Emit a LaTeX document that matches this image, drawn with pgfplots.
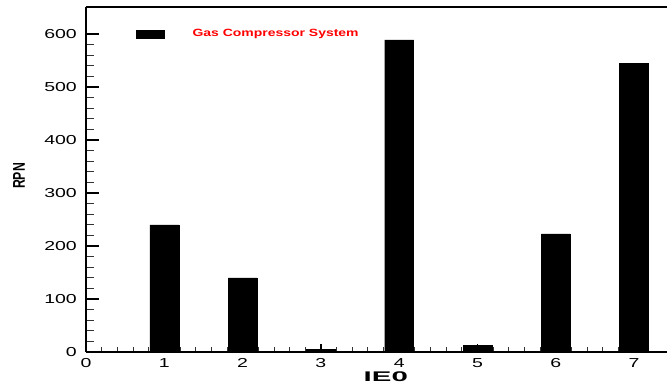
\documentclass[border=0pt]{standalone}
\usepackage{graphicx}
\usepackage{fontspec}
\setmainfont{Liberation Sans}
\newfontfamily\widefont[FakeStretch=1.5]{Liberation Sans}
\newfontfamily\legfont[FakeStretch=1.33]{Liberation Sans}
\usepackage{pgfplots}
\pgfplotsset{compat=1.18}
\begin{document}
\begin{tikzpicture}
\begin{axis}[
  scale only axis, width=581pt, height=345pt,
  xmin=0, xmax=7.42, ymin=0, ymax=651,
  axis x line*=bottom, axis y line*=left,
  axis line style={-, line width=1.6pt},
  xtick={0,...,7}, ytick={0,100,...,600},
  minor x tick num=4, minor y tick num=4,
  tick align=inside,
  major tick length=13pt, minor tick length=8pt,
  xtick style={/pgfplots/major tick length=8pt, /pgfplots/minor tick length=5pt},
  major tick style={line width=1.2pt, black},
  minor tick style={line width=0.8pt, black!80},
  /pgf/number format/assume math mode=true,
  ticklabel style={font=\widefont\fontsize{13}{13}\selectfont, inner sep=0pt},
  yticklabel style={xshift=-9pt},
  xticklabel style={yshift=-6pt},
  xlabel={\scalebox{2.1}[1]{\bfseries\fontsize{14}{14}\selectfont IE0}},
  xlabel style={at={(axis description cs:0.516,-0.0575)}, anchor=north, inner sep=0pt},
  ylabel={\scalebox{0.72}[1]{\bfseries\fontsize{17}{17}\selectfont RPN}},
  ylabel style={at={(axis description cs:-0.105,0.51)}, anchor=south, inner sep=0pt},
  clip=false,
  legend style={at={(axis description cs:0.086,0.922)}, anchor=west, draw=none, fill=none, inner sep=0pt,
    font=\legfont\bfseries\fontsize{10.5}{12}\selectfont, text=red,
    /tikz/every odd column/.append style={column sep=26pt}},
  legend image code/.code={\fill[black] (0pt,-4pt) rectangle (28pt,4pt);},
]
\addplot[ybar, fill=black, draw=black, bar width=0.37] coordinates {(1,240) (2,140) (3,5) (4,589) (5,12) (6,223) (7,545)};
\addlegendentry{Gas Compressor System}
\draw[line width=1.6pt] (rel axis cs:0,1) -- (rel axis cs:1,1);
\coordinate (bl) at (rel axis cs:0,0);
\coordinate (tr) at (rel axis cs:1,1);
\end{axis}
\pgfresetboundingbox
\useasboundingbox ([shift={(-86pt,-33pt)}]bl) rectangle ([shift={(0pt,7pt)}]tr);
\end{tikzpicture}
\end{document}
